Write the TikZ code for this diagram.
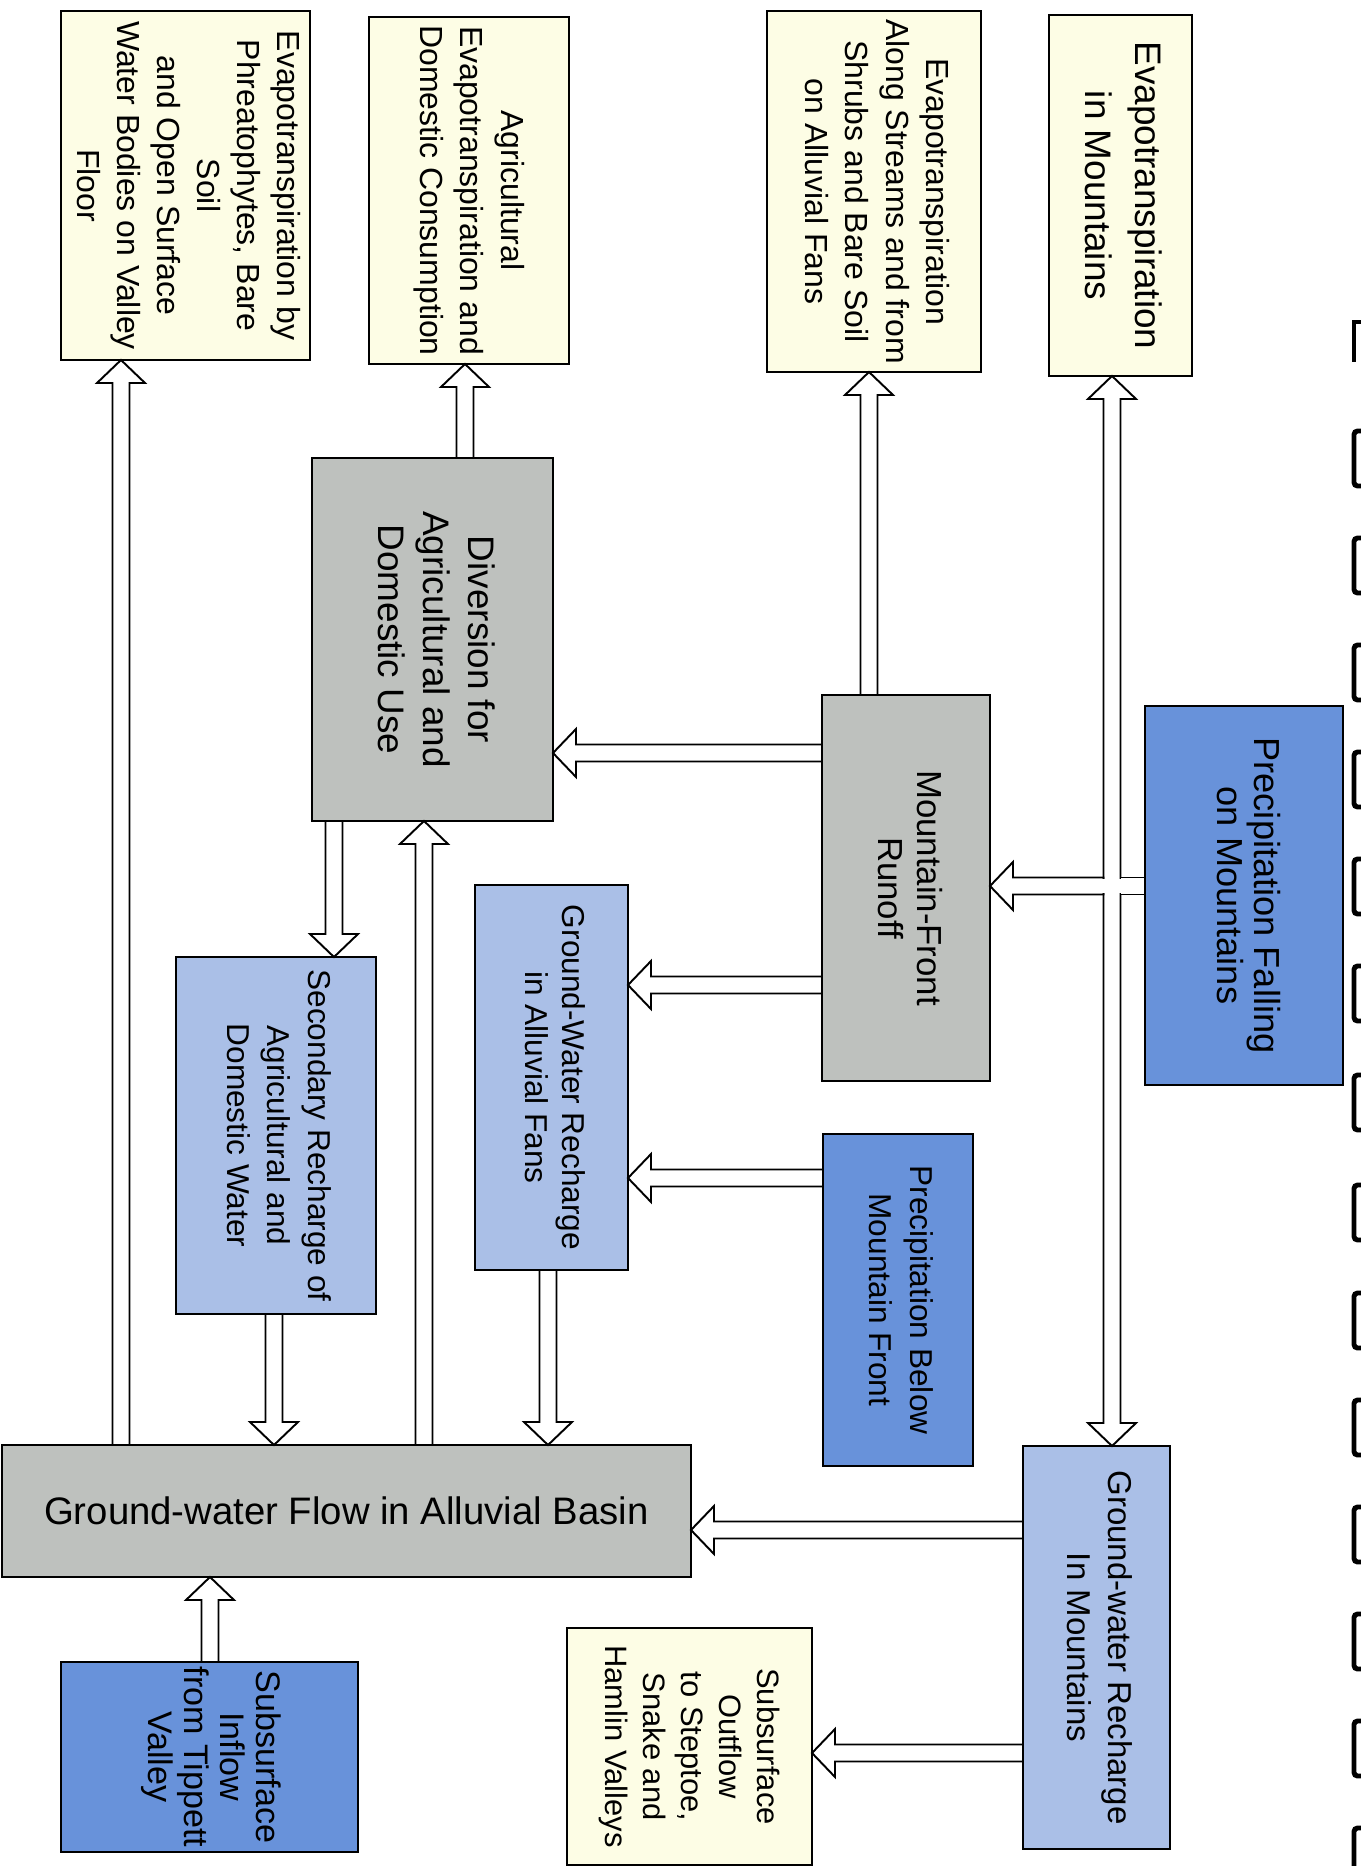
\documentclass[tikz,border=0pt]{standalone}
\usepackage{fontspec}
\setmainfont{Liberation Sans}
\usepackage{graphicx}
\usepackage{tikz}
\usetikzlibrary{calc}
\definecolor{wbcream}{RGB}{253,253,229}
\definecolor{wbgray}{RGB}{190,193,190}
\definecolor{wbblue}{RGB}{104,146,218}
\definecolor{wblight}{RGB}{170,191,231}
\newcommand{\vlab}[1]{\rotatebox{-90}{\begin{tabular}{@{}c@{}}#1\end{tabular}}}

\begin{document}
\begin{tikzpicture}[x=0.1mm, y=-0.1mm,
  box/.style={draw, line width=0.55pt, inner sep=0pt, outer sep=0pt,
    font=\fontsize{9.1}{11.4}\selectfont},
  sink/.style={box, fill=wbcream},
  mid/.style={box, fill=wbgray},
  rain/.style={box, fill=wbblue},
  rech/.style={box, fill=wblight},
  flow/.style={draw, fill=white, line width=0.55pt, line join=miter,
    to path={let \p1=($(\tikztotarget)!2.3mm!(\tikztostart)$) in
      ($(\tikztostart)!0.85mm!90:(\tikztotarget)$) --
      ($(\p1)!0.85mm!90:(\tikztotarget)$) --
      ($(\p1)!2.4mm!90:(\tikztotarget)$) --
      (\tikztotarget) --
      ($(\p1)!2.4mm!-90:(\tikztotarget)$) --
      ($(\p1)!0.85mm!-90:(\tikztotarget)$) --
      ($(\tikztostart)!0.85mm!-90:(\tikztotarget)$) -- cycle}},
  band/.style={draw, fill=white, line width=0.55pt,
    to path={($(\tikztostart)!0.85mm!90:(\tikztotarget)$) --
      ($(\tikztotarget)!0.85mm!-90:(\tikztostart)$) --
      ($(\tikztotarget)!0.85mm!90:(\tikztostart)$) --
      ($(\tikztostart)!0.85mm!-90:(\tikztotarget)$) -- cycle}}]
\useasboundingbox (0,0) rectangle (1360,1866);
% Outflows (top row)
\node[sink, minimum width=24.9mm, minimum height=34.9mm] (phr) at (185.5,185.5)
  {\vlab{Evapotranspiration by\\Phreatophytes, Bare\\Soil\\and Open Surface\\Water Bodies on Valley\\Floor}};
\node[sink, minimum width=20mm, minimum height=34.7mm] (agr) at (469,190.5)
  {\vlab{Agricultural\\Evapotranspiration and\\Domestic Consumption}};
\node[sink, minimum width=21.4mm, minimum height=36.1mm] (str) at (874,191.5)
  {\vlab{Evapotranspiration\\Along Streams and from\\Shrubs and Bare Soil\\on Alluvial Fans}};
\node[sink, minimum width=14.3mm, minimum height=36.1mm, font=\fontsize{10.5}{14.2}\selectfont] (em) at (1120.5,195.5)
  {\vlab{Evapotranspiration\\in Mountains}};
% Middle boxes
\node[mid, minimum width=24.1mm, minimum height=36.3mm, font=\fontsize{10.5}{12.9}\selectfont] (div) at (432.5,639.5)
  {\vlab{Diversion for\\Agricultural and\\Domestic Use}};
\node[mid, minimum width=16.8mm, minimum height=38.6mm, font=\fontsize{9.9}{11.1}\selectfont] (ro) at (906,888)
  {\vlab{Mountain-Front\\Runoff}};
\node[rain, minimum width=19.8mm, minimum height=37.9mm, font=\fontsize{10.3}{9.8}\selectfont] (pfm) at (1244,895.5)
  {\vlab{Precipitation Falling\\on Mountains}};
\node[rech, minimum width=15.3mm, minimum height=38.5mm, font=\fontsize{9}{10.5}\selectfont] (alf) at (551.5,1077.5)
  {\vlab{Ground-Water Recharge\\in Alluvial Fans}};
\node[rech, minimum width=20mm, minimum height=35.7mm, font=\fontsize{9}{11.4}\selectfont] (sec) at (276,1135.5)
  {\vlab{Secondary Recharge of\\Agricultural and\\Domestic Water}};
\node[rain, minimum width=15mm, minimum height=33.2mm, font=\fontsize{9}{11.7}\selectfont] (pbm) at (898,1300)
  {\vlab{Precipitation Below\\Mountain Front}};
\node[rech, minimum width=14.7mm, minimum height=40.3mm, font=\fontsize{9.4}{11.7}\selectfont] (gwrm) at (1096.5,1647.5)
  {\vlab{Ground-water Recharge\\In Mountains}};
% Basin and boundary flows
\node[mid, minimum width=68.9mm, minimum height=13.2mm, font=\fontsize{10.9}{13}\selectfont] (gwf) at (346.5,1511)
  {Ground-water Flow in Alluvial Basin};
\node[sink, minimum width=24.5mm, minimum height=23.7mm, font=\fontsize{8.8}{10.8}\selectfont] (out) at (689.5,1746.5)
  {\vlab{Subsurface\\Outflow\\to  Steptoe,\\Snake and\\Hamlin Valleys}};
\node[rain, minimum width=29.7mm, minimum height=19mm, font=\fontsize{9.7}{10.2}\selectfont] (inf) at (209.5,1757)
  {\vlab{Subsurface\\Inflow\\from Tippett\\Valley}};
% Trunk from mountain precipitation
\coordinate (J) at (1112,886);
\coordinate (Jl) at (1103.5,886);
\coordinate (Jr) at (1120.5,886);
\draw[flow] (J) to (J |- em.south);
\draw[flow] (J) to (J |- gwrm.north);
\draw[flow] (Jl) to (J -| ro.east);
\draw[band] (pfm.west |- J) to (Jr);
\fill[white] ($(J)+(-9.8,-7.3)$) rectangle ($(J)+(9.8,7.3)$);
% Arrows
\draw[flow] (ro.north -| 869,0) to (str.south -| 869,0);
\draw[flow] (ro.west |- 0,753) to (div.east |- 0,753);
\draw[flow] (ro.west |- 0,985) to (alf.east |- 0,985);
\draw[flow] (pbm.west |- 0,1178) to (alf.east |- 0,1178);
\draw[flow] (div.north -| 465,0) to (agr.south -| 465,0);
\draw[flow] (div.south -| 334,0) to (sec.north -| 334,0);
\draw[flow] (gwf.north -| 424,0) to (div.south -| 424,0);
\draw[flow] (sec.south -| 274,0) to (gwf.north -| 274,0);
\draw[flow] (alf.south -| 548,0) to (gwf.north -| 548,0);
\draw[flow] (gwf.north -| 121,0) to (phr.south -| 121,0);
\draw[flow] (gwrm.west |- 0,1530) to (gwf.east |- 0,1530);
\draw[flow] (gwrm.west |- 0,1753) to (out.east |- 0,1753);
\draw[flow] (inf.north -| 210,0) to (gwf.south -| 210,0);
% Binder marks at the page edge
\draw[line width=1.4pt] (1362,322) -- (1354,322) -- (1354,362);
\foreach \y in {431,538,645,752,859,966,1075,1185,1293,1400,1507,1614,1721,1828} {
  \draw[line width=1.4pt, rounded corners=1pt] (1362,\y) -- (1354,\y) -- (1354,\y+55) -- (1362,\y+55);
}
\end{tikzpicture}
\end{document}
